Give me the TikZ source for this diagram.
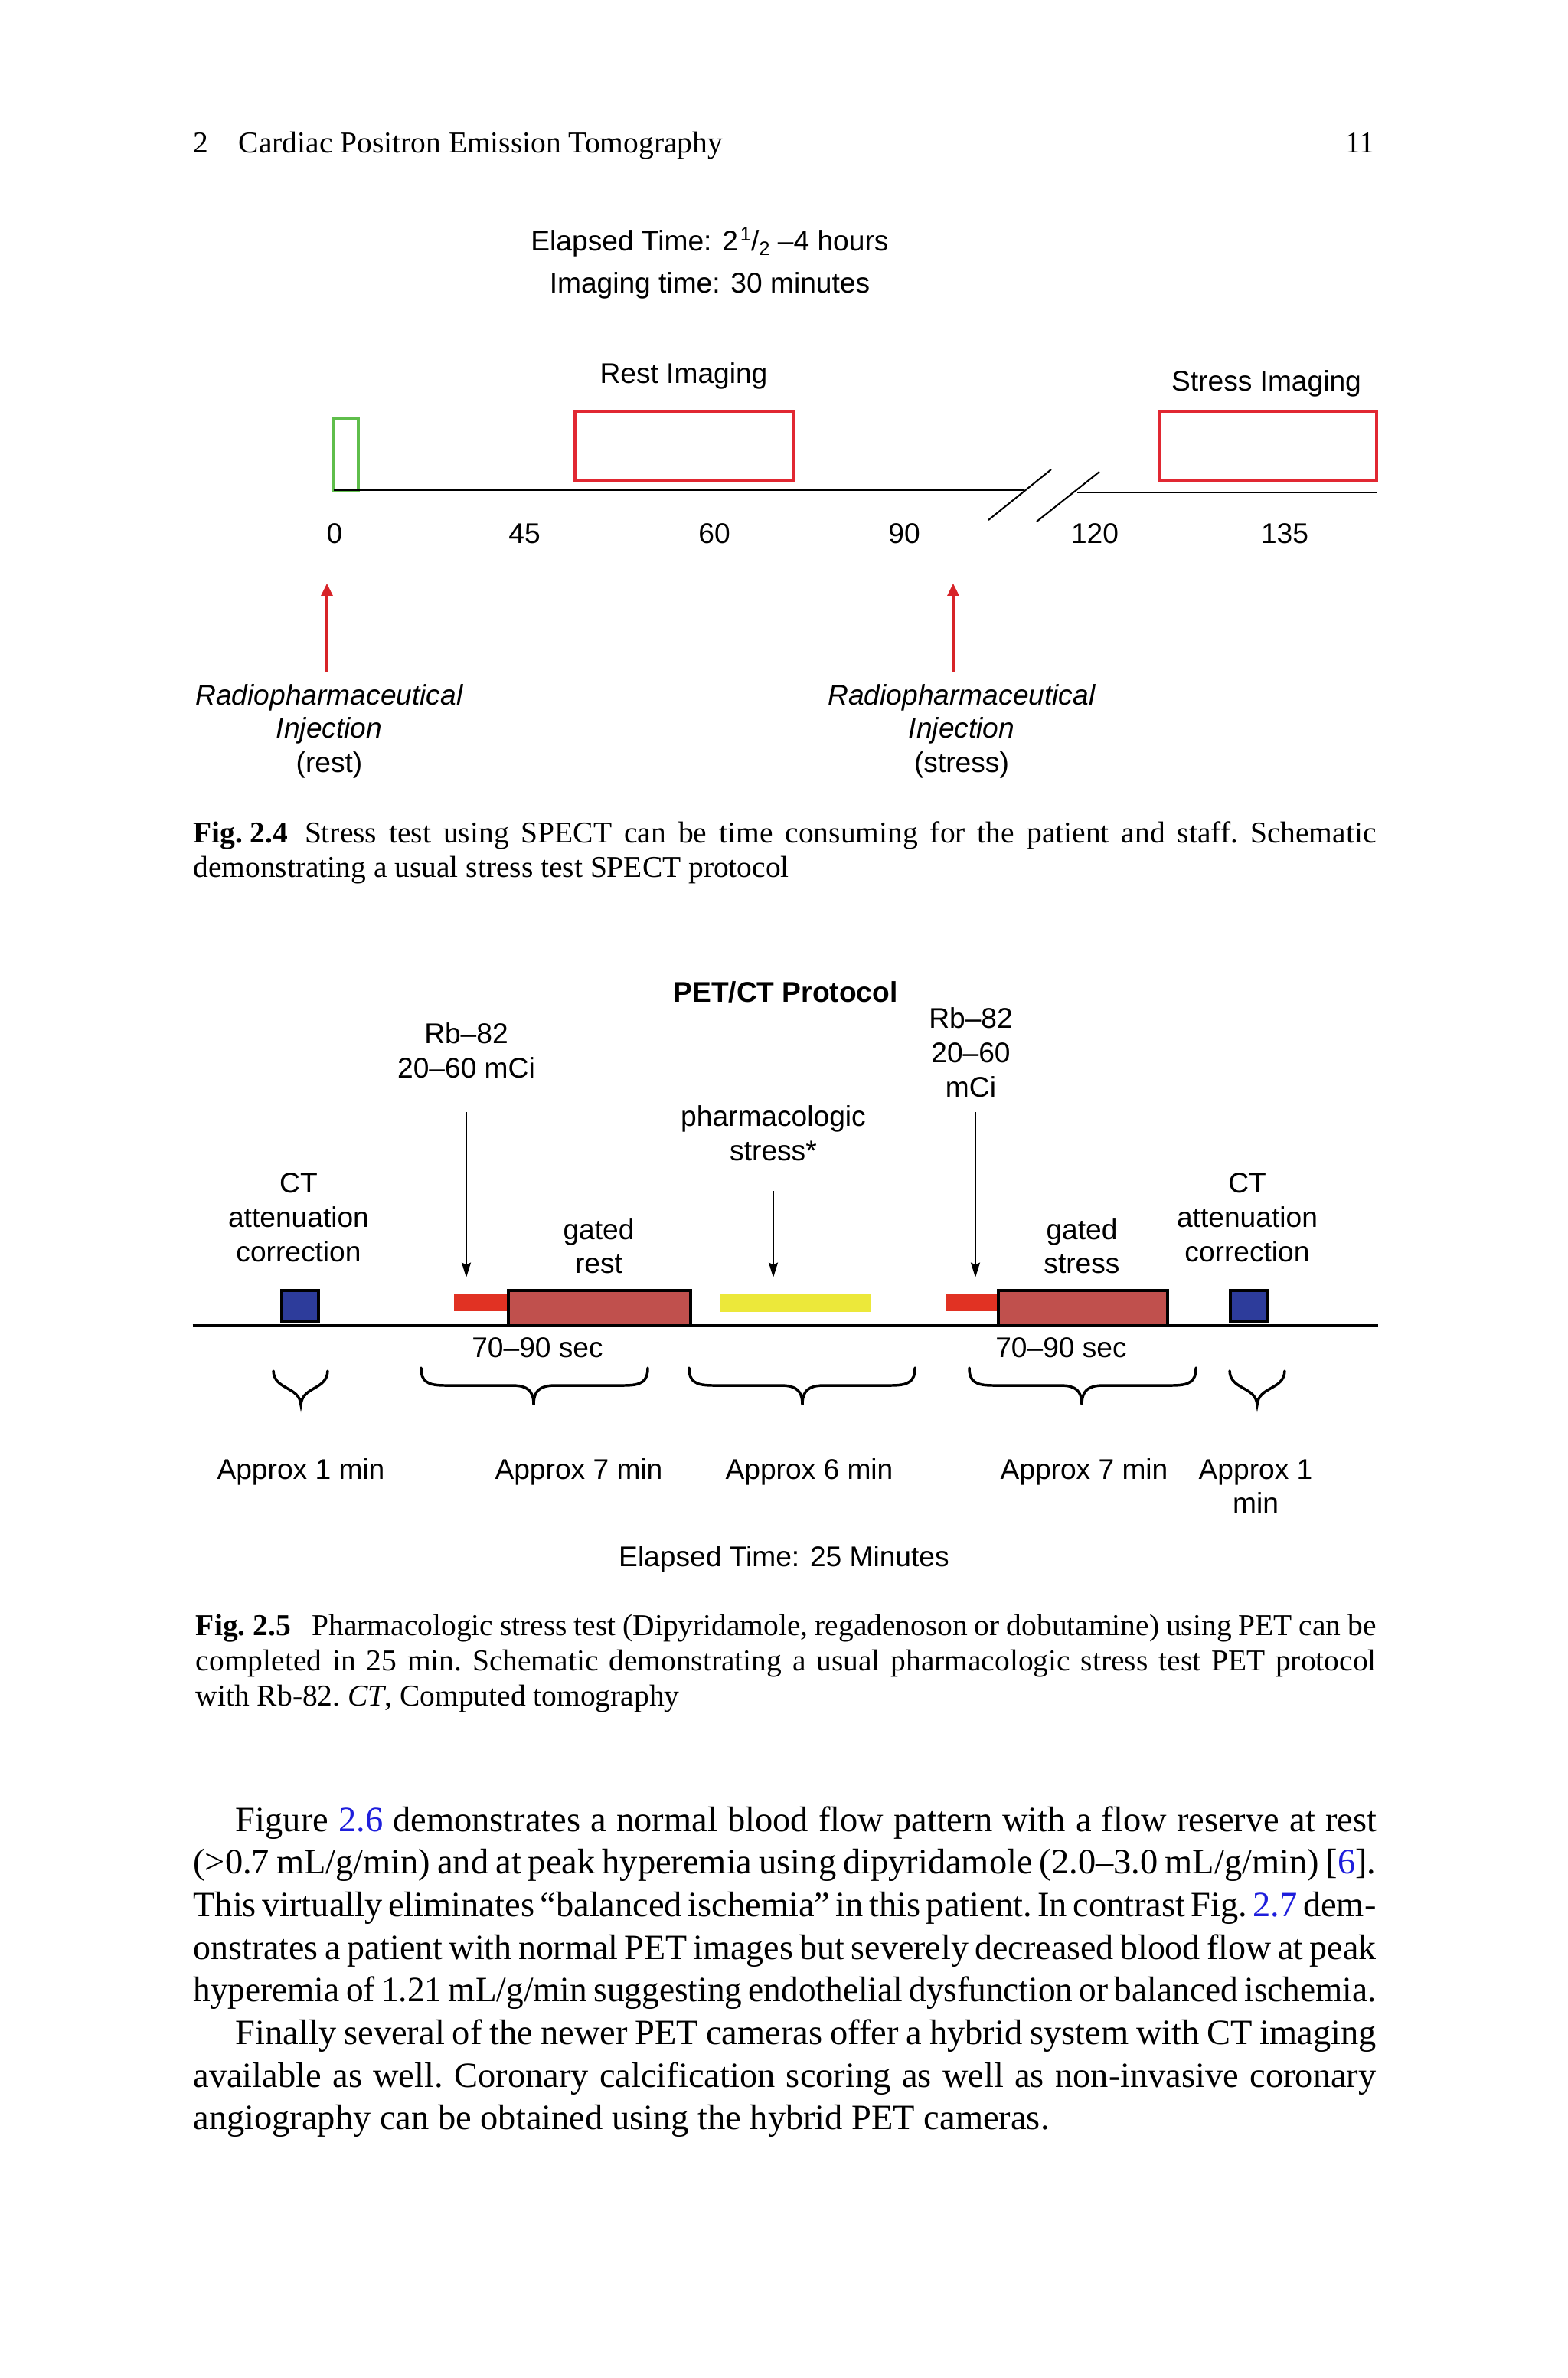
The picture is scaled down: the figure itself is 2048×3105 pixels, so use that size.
\documentclass[tikz,border=0pt]{standalone}
\usepackage{fontspec}
\usepackage{graphicx}
\setmainfont{Liberation Serif}
\newfontfamily\hv{Liberation Sans}
\usetikzlibrary{arrows.meta}
\definecolor{greenbox}{RGB}{95,190,75}
\definecolor{redbox}{RGB}{225,40,50}
\definecolor{redarrow}{RGB}{215,35,40}
\definecolor{smallred}{RGB}{225,50,35}
\definecolor{boxred}{RGB}{192,80,77}
\definecolor{yel}{RGB}{236,232,58}
\definecolor{ctblue}{RGB}{45,60,155}
\definecolor{linkblue}{RGB}{30,30,220}
\newcommand{\lk}[1]{\textcolor{linkblue}{#1}}
\tikzset{
  hdr/.style={font=\fontsize{8.5}{10}\selectfont, inner sep=0pt, anchor=base west},
  figtxt/.style={font=\hv\fontsize{8}{9.7}\selectfont, inner sep=0pt, anchor=base},
  figit/.style={font=\hv\itshape\fontsize{8}{9.7}\selectfont, inner sep=0pt, anchor=base},
  figbold/.style={font=\hv\bfseries\fontsize{8}{9.7}\selectfont, inner sep=0pt, anchor=base},
  captxt/.style={font={\fontsize{8.5}{10}\selectfont\frenchspacing\spaceskip=0.25em plus 0.3em minus 0.1em}, inner sep=0pt, anchor=base west},
  bodytxt/.style={font={\fontsize{10}{12}\selectfont\frenchspacing\spaceskip=0.25em plus 0.3em minus 0.13em}, inner sep=0pt, anchor=base west},
  imgbox/.style={draw=redbox, line width=0.8pt},
  axisline/.style={line width=0.6pt},
  redarr/.style={draw=redarrow, line width=0.65pt, -{Triangle[length=3.4pt,width=3.2pt]}},
  blkarr/.style={line width=0.35pt, -{Stealth[length=4.2pt,width=2.6pt,inset=0.6pt]}},
  bracestyle/.style={line width=0.75pt, line cap=round},
  ctbox/.style={fill=ctblue, draw=black, line width=0.7pt},
  scanbox/.style={fill=boxred, draw=black, line width=0.8pt}
}
\begin{document}
\begin{tikzpicture}[x=0.075684mm,y=-0.075684mm]
\path[use as bounding box, fill=white] (0,0) rectangle (2048,3105);

% header
\node[hdr] (hnum) at (252,199) {2};
\node[hdr] (htitle) at (311,199) {Cardiac Positron Emission Tomography};
\node[hdr, anchor=base east] (hpage) at (1796.5,199) {11};

% ---------- Fig 2.4 ----------
\node[figtxt] (el1) at (927,327) {Elapsed Time: 2\kern0.08em{\fontsize{5.5}{6}\selectfont\raisebox{2.8pt}{1}}/{\fontsize{5.5}{6}\selectfont\raisebox{-1.3pt}{2}} –4 hours};
\node[figtxt] (im1) at (927,382) {Imaging time: 30 minutes};
\node[figtxt] (restlab) at (893,500) {Rest Imaging};
\node[figtxt] (stresslab) at (1654,510) {Stress Imaging};

\draw[greenbox, line width=0.8pt] (436,547) rectangle (468,640);
\draw[imgbox] (751,537) rectangle (1036,627);
\draw[imgbox] (1514,537) rectangle (1798,627);
\draw[axisline] (436,640) -- (1337,640);
\draw[axisline] (1407,643) -- (1798,643);
\draw[line width=0.45pt] (1291,679) -- (1373,613);
\draw[line width=0.45pt] (1354,681) -- (1436,616);

\node[figtxt] (t0) at (437,709) {0};
\node[figtxt] (t45) at (685,709) {45};
\node[figtxt] (t60) at (933,709) {60};
\node[figtxt] (t90) at (1181,709) {90};
\node[figtxt] (t120) at (1430,709) {120};
\node[figtxt] (t135) at (1678,709) {135};

\coordinate (ra1s) at (427,877);
\coordinate (ra1e) at (427,762);
\coordinate (ra2s) at (1245,877);
\coordinate (ra2e) at (1245,762);
\draw[redarr] (ra1s) -- (ra1e);
\draw[redarr] (ra2s) -- (ra2e);

\node[figit] (rp1a) at (430,920) {Radiopharmaceutical};
\node[figit] (rp1b) at (430,963) {Injection};
\node[figtxt] (rp1c) at (430,1008) {(rest)};
\node[figit] (rp2a) at (1256,920) {Radiopharmaceutical};
\node[figit] (rp2b) at (1256,963) {Injection};
\node[figtxt] (rp2c) at (1256,1008) {(stress)};

% caption 2.4
\node[captxt] (c24a) at (251.5,1100) {\makebox[116.93mm][s]{\mbox{\textbf{Fig.\kern0.25em2.4}}\hspace{0.55em}Stress test using SPECT can be time consuming for the patient and staff. Schematic}};
\node[captxt] (c24b) at (251.5,1145) {demonstrating a usual stress test SPECT protocol};

% ---------- Fig 2.5 ----------
\node[figbold] (pettitle) at (1026,1308) {PET/CT Protocol};
\node[figtxt] (rbl1) at (609,1362) {Rb–82};
\node[figtxt] (rbl2) at (609,1407) {20–60 mCi};
\node[figtxt] (rbr1) at (1268,1342) {Rb–82};
\node[figtxt] (rbr2) at (1268,1387) {20–60};
\node[figtxt] (rbr3) at (1268,1432) {mCi};
\node[figtxt] (ph1) at (1010,1470) {pharmacologic};
\node[figtxt] (ph2) at (1010,1515) {stress*};
\node[figtxt] (ctl1) at (390,1557) {CT};
\node[figtxt] (ctl2) at (390,1602) {attenuation};
\node[figtxt] (ctl3) at (390,1647) {correction};
\node[figtxt] (gr1) at (782,1618) {gated};
\node[figtxt] (gr2) at (782,1662) {rest};
\node[figtxt] (gs1) at (1413,1618) {gated};
\node[figtxt] (gs2) at (1413,1662) {stress};
\node[figtxt] (ctr1) at (1629,1557) {CT};
\node[figtxt] (ctr2) at (1629,1602) {attenuation};
\node[figtxt] (ctr3) at (1629,1647) {correction};

\coordinate (a1s) at (609,1452);
\coordinate (a1e) at (609,1668);
\coordinate (a2s) at (1010,1555);
\coordinate (a2e) at (1010,1668);
\coordinate (a3s) at (1274,1452);
\coordinate (a3e) at (1274,1668);
\draw[blkarr] (a1s) -- (a1e);
\draw[blkarr] (a2s) -- (a2e);
\draw[blkarr] (a3s) -- (a3e);

\fill[smallred] (593,1690) rectangle (664,1712);
\fill[yel] (941,1690) rectangle (1138,1713);
\fill[smallred] (1235,1690) rectangle (1304,1712);
\draw[scanbox] (664,1685) rectangle (902,1731);
\draw[scanbox] (1304,1685) rectangle (1525,1731);
\draw[ctbox] (368,1685) rectangle (416,1726);
\draw[ctbox] (1607,1685) rectangle (1655,1726);
\draw[line width=0.7pt] (251.5,1731) -- (1800,1731);

\node[figtxt] (s1) at (702,1772) {70–90 sec};
\node[figtxt] (s2) at (1386,1772) {70–90 sec};

% braces
\draw[bracestyle] (357,1790) .. controls (358,1815) and (391,1810) .. (393,1834) .. controls (395,1810) and (427,1815) .. (428,1790);
\draw[bracestyle] (1606,1790) .. controls (1607,1815) and (1640,1810) .. (1642,1834) .. controls (1644,1810) and (1677,1815) .. (1678,1790);
\foreach \xl/\xm/\xr in {550/697/846, 900/1048/1195, 1266/1413/1562}{
  \draw[bracestyle] (\xl,1786) .. controls (\xl,1804) and (\xl+8,1809) .. (\xl+32,1809)
     -- (\xm-28,1809) .. controls (\xm-8,1809) and (\xm,1816) .. (\xm,1834)
     .. controls (\xm,1816) and (\xm+8,1809) .. (\xm+28,1809)
     -- (\xr-32,1809) .. controls (\xr-8,1809) and (\xr,1804) .. (\xr,1786);
}

\node[figtxt] (ap1) at (393,1931) {Approx 1 min};
\node[figtxt] (ap2) at (756,1931) {Approx 7 min};
\node[figtxt] (ap3) at (1057,1931) {Approx 6 min};
\node[figtxt] (ap4) at (1416,1931) {Approx 7 min};
\node[figtxt] (ap5a) at (1640,1931) {Approx 1};
\node[figtxt] (ap5b) at (1640,1975) {min};
\node[figtxt] (el2) at (1024,2045) {Elapsed Time: 25 Minutes};

% caption 2.5
\node[captxt] (c25a) at (255,2135) {\makebox[116.67mm][s]{\mbox{\textbf{Fig.\kern0.25em2.5}}\hspace{0.7em}Pharmacologic stress test (Dipyridamole, regadenoson or dobutamine) using PET can be}};
\node[captxt] (c25b) at (255,2181) {\makebox[116.67mm][s]{completed in 25 min. Schematic demonstrating a usual pharmacologic stress test PET protocol}};
\node[captxt] (c25c) at (255,2227) {with Rb-82. \textit{CT}, Computed tomography};

% body text
\node[bodytxt] (b1) at (307,2391) {\makebox[112.77mm][s]{Figure \lk{2.6} demonstrates a normal blood flow pattern with a flow reserve at rest}};
\node[bodytxt] (b2) at (251.5,2446.7) {\makebox[116.93mm][s]{(>0.7 mL/g/min) and at peak hyperemia using dipyridamole (2.0–3.0 mL/g/min) [\lk{6}].}};
\node[bodytxt] (b3) at (251.5,2502.4) {\makebox[116.93mm][s]{This virtually eliminates “balanced ischemia” in this patient. In contrast Fig. \lk{2.7} dem-}};
\node[bodytxt] (b4) at (251.5,2558.1) {\scalebox{0.99}[1]{\makebox[118.11mm][s]{onstrates a patient with normal PET images but severely decreased blood flow at peak}}};
\node[bodytxt] (b5) at (251.5,2613.8) {\scalebox{0.975}[1]{\makebox[119.93mm][s]{hyperemia of 1.21 mL/g/min suggesting endothelial dysfunction or balanced ischemia.}}};
\node[bodytxt] (b6) at (307,2669.5) {\makebox[112.77mm][s]{Finally several of the newer PET cameras offer a hybrid system with CT imaging}};
\node[bodytxt] (b7) at (251.5,2725.2) {\makebox[116.93mm][s]{available as well. Coronary calcification scoring as well as non-invasive coronary}};
\node[bodytxt] (b8) at (251.5,2780.9) {angiography can be obtained using the hybrid PET cameras.};
\end{tikzpicture}
\end{document}
